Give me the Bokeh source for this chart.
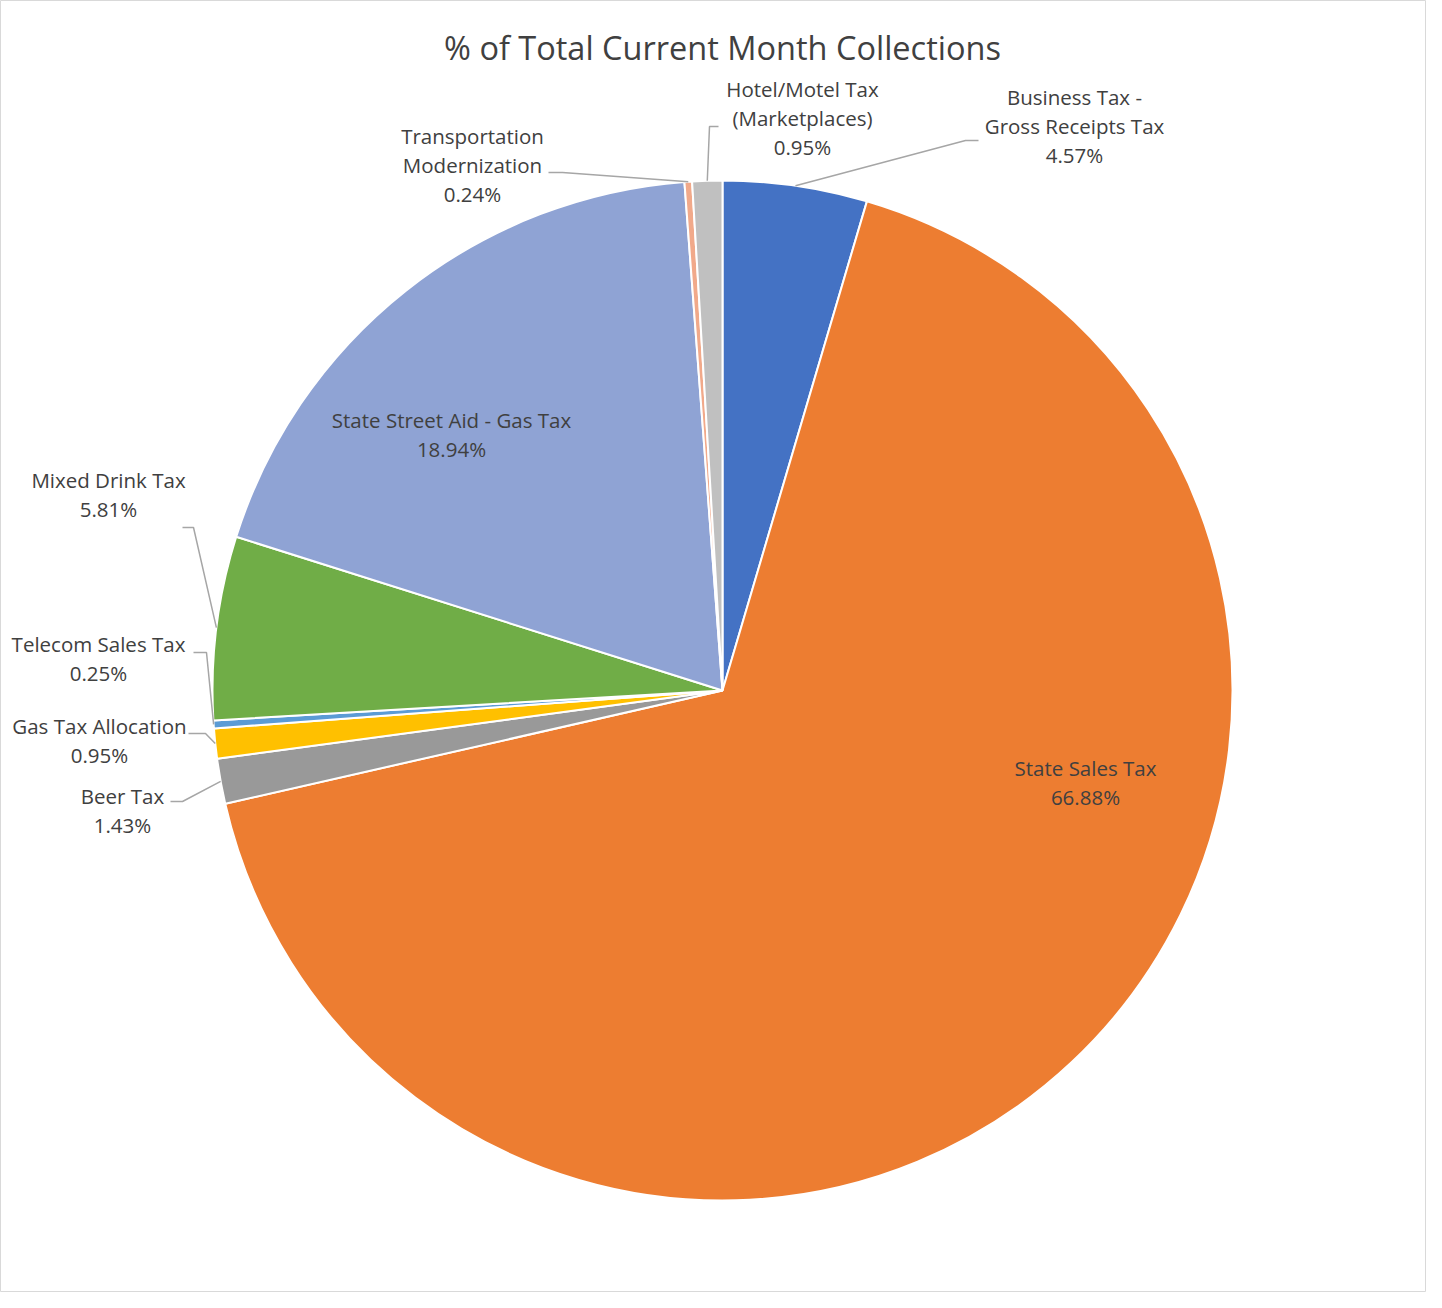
import numpy as np
from bokeh.plotting import figure
from bokeh.models import Range1d, ColumnDataSource
from bokeh.core.properties import value
from bokeh.embed import file_html
from bokeh.resources import INLINE

# ---------------- data ----------------
title_text = "% of Total Current Month Collections"
categories = ["Business Tax - Gross Receipts Tax", "State Sales Tax", "Beer Tax",
              "Gas Tax Allocation", "Telecom Sales Tax", "Mixed Drink Tax",
              "State Street Aid - Gas Tax", "Transportation Modernization",
              "Hotel/Motel Tax (Marketplaces)"]
percents = [4.57, 66.88, 1.43, 0.95, 0.25, 5.81, 18.94, 0.24, 0.95]
label_lines = [["Business Tax -", "Gross Receipts Tax"], ["State Sales Tax"], ["Beer Tax"],
               ["Gas Tax Allocation"], ["Telecom Sales Tax"], ["Mixed Drink Tax"],
               ["State Street Aid - Gas Tax"], ["Transportation", "Modernization"],
               ["Hotel/Motel Tax", "(Marketplaces)"]]

# ---------------- styles / layout ----------------
colors = ["#4472C4", "#ED7D31", "#999999", "#FFC000", "#5B9BD5", "#70AD47",
          "#8FA3D4", "#F1A98A", "#C0C0C0"]
H = 1308                      # reference pixel height (y flipped to data)
W_FIG, H_FIG = 1426, 1292
CX, CY, R = 722, 690, 510      # pie centre / radius in reference pixels
# label: centre x, y of first line
label_pos = [(1074, 96), (1085, 767), (122, 795), (99, 725), (98, 643), (108, 479),
             (451, 419), (472, 135), (802, 88)]
LINE = 29.3
# leader elbows (None -> label inside slice)
leaders = [[(965, 140), (978, 140)], None, [(182, 801), (170, 801)], [(205, 733), (188, 733)],
           [(206, 652), (193, 652)], [(193, 527), (182, 527)], None,
           [(562, 172), (548, 172)], [(709, 126), (718, 126)]]
FONT = "Open Sans"
TXT = "#404040"

p = figure(width=W_FIG, height=H_FIG, x_range=Range1d(0, W_FIG),
           y_range=Range1d(H - H_FIG, H),
           x_axis_type=None, y_axis_type=None, toolbar_location=None,
           output_backend="svg", min_border=0)
p.grid.visible = False
p.outline_line_color = "#D9D9D9"
p.outline_line_width = 1
p.background_fill_color = "white"
p.border_fill_color = "white"

vals = np.array(percents, dtype=float)
frac = vals / vals.sum()
cum = np.concatenate([[0], np.cumsum(frac)])
starts = np.pi / 2 - 2 * np.pi * cum[:-1]
ends = np.pi / 2 - 2 * np.pi * cum[1:]
mids = (starts + ends) / 2

src = ColumnDataSource(dict(x=[CX] * len(vals), y=[H - CY] * len(vals),
                            start=starts, end=ends, color=colors))
p.wedge(x="x", y="y", radius=R, start_angle="start", end_angle="end",
        direction="clock", fill_color="color", line_color="white", line_width=2,
        source=src)

# leader lines
xs, ys = [], []
for i, ld in enumerate(leaders):
    if ld is None:
        continue
    ex = CX + R * np.cos(mids[i])
    ey = (H - CY) + R * np.sin(mids[i])
    xs.append([ex] + [pt[0] for pt in ld])
    ys.append([ey] + [H - pt[1] for pt in ld])
p.multi_line(xs=xs, ys=ys, line_color="#A6A6A6", line_width=1.5)

# labels
tx, ty, tt = [], [], []
for i, lines in enumerate(label_lines):
    lx, ly = label_pos[i]
    allines = lines + [f"{percents[i]:.2f}%"]
    for k, s in enumerate(allines):
        tx.append(lx)
        ty.append(H - (ly + k * LINE))
        tt.append(s)
p.text(x=tx, y=ty, text=tt, text_font=value(FONT), text_font_size="20.5px",
       text_color=TXT, text_align="center", text_baseline="middle")

p.text(x=[722], y=[H - 47], text=[title_text], text_font=value(FONT),
       text_font_size="32.5px", text_color=TXT, text_align="center", text_baseline="middle")

open("out.html", "w").write(file_html(p, INLINE))
